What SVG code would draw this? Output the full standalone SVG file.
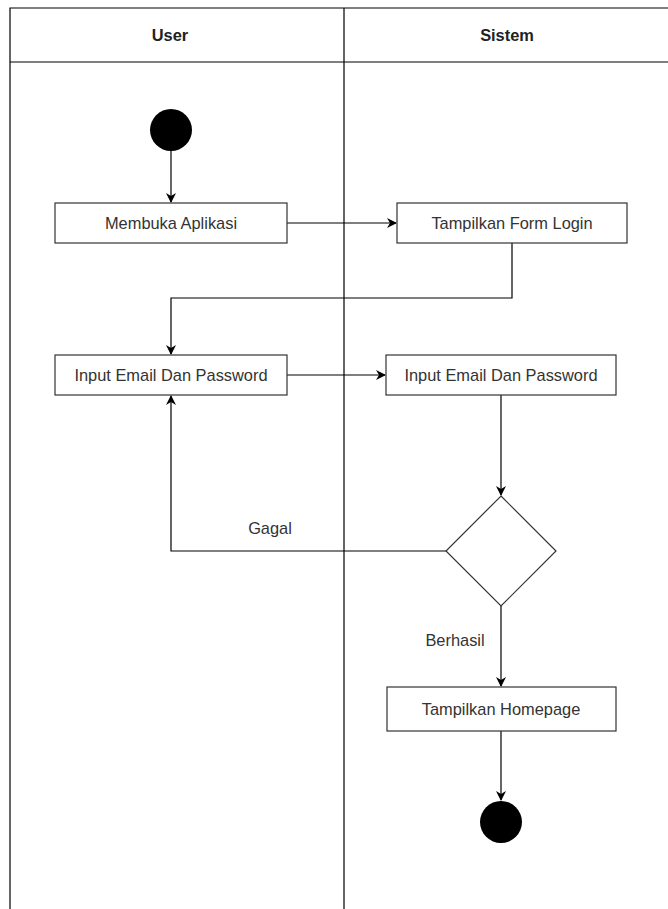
<svg xmlns="http://www.w3.org/2000/svg" width="668" height="909" viewBox="0 0 668 909">
<defs>
<marker id="arr" viewBox="0 0 10 10" refX="9" refY="5" markerWidth="10" markerHeight="10" markerUnits="userSpaceOnUse" orient="auto">
<path d="M0,0 L10,5 L0,10 L3,5 Z" fill="#000"/>
</marker>
<style>
.lane{fill:none;stroke:#000;stroke-width:1.2}
.box{fill:#fff;stroke:#333;stroke-width:1.2}
.t{font-family:"Liberation Sans",Arial,sans-serif;font-size:16.4px;fill:#333;text-anchor:middle;dominant-baseline:central}
.h{font-family:"Liberation Sans",Arial,sans-serif;font-size:16.4px;font-weight:bold;fill:#222;text-anchor:middle;dominant-baseline:central}
.c{fill:none;stroke:#000;stroke-width:1.2}
</style>
</defs>
<g id="swimlanes">
<path class="lane" d="M10,909 L10,8 L668,8 M10,62 L668,62 M344,8 L344,909"/>
<text class="h" x="170" y="35">User</text>
<text class="h" x="507" y="35">Sistem</text>
</g>
<g id="connectors">
<path class="c" d="M171,151 L171,202" marker-end="url(#arr)"/>
<path class="c" d="M287,223 L396,223" marker-end="url(#arr)"/>
<path class="c" d="M512,243 L512,298 L171,298 L171,354" marker-end="url(#arr)"/>
<path class="c" d="M287,375 L385,375" marker-end="url(#arr)"/>
<path class="c" d="M501,395 L501,495" marker-end="url(#arr)"/>
<path class="c" d="M446,551 L171,551 L171,396" marker-end="url(#arr)"/>
<path class="c" d="M501,606 L501,686" marker-end="url(#arr)"/>
<path class="c" d="M501,731 L501,800" marker-end="url(#arr)"/>
<text class="t" x="270" y="528">Gagal</text>
<text class="t" x="455" y="640">Berhasil</text>
</g>
<g id="start"><circle cx="171" cy="130" r="21" fill="#000"/></g>
<g id="membuka"><rect class="box" x="55" y="203" width="232" height="40"/><text class="t" x="171" y="223">Membuka Aplikasi</text></g>
<g id="formlogin"><rect class="box" x="397" y="203" width="230" height="40"/><text class="t" x="512" y="223">Tampilkan Form Login</text></g>
<g id="inputUser"><rect class="box" x="55" y="355" width="232" height="40"/><text class="t" x="171" y="375">Input Email Dan Password</text></g>
<g id="inputSistem"><rect class="box" x="386" y="355" width="230" height="40"/><text class="t" x="501" y="375">Input Email Dan Password</text></g>
<g id="decision"><path class="box" d="M501,496 L556,551 L501,606 L446,551 Z"/></g>
<g id="homepage"><rect class="box" x="387" y="687" width="229" height="44"/><text class="t" x="501" y="709">Tampilkan Homepage</text></g>
<g id="end"><circle cx="501" cy="822" r="21" fill="#000"/></g>
</svg>
